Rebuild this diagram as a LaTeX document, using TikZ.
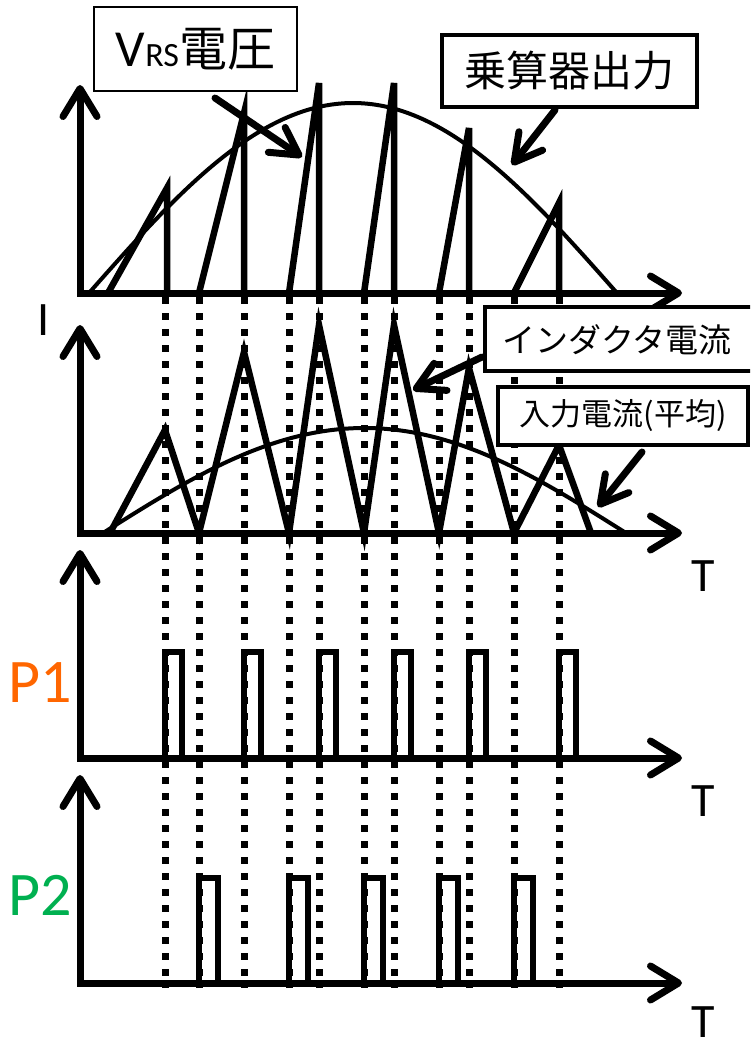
\documentclass[tikz,border=0pt]{standalone}
\usepackage{fontspec}
\setmainfont{Carlito}
\newfontfamily\jp{Noto Sans CJK JP}
\usetikzlibrary{arrows.meta}
\definecolor{porange}{RGB}{255,102,0}
\definecolor{pgreen}{RGB}{0,176,80}
\begin{document}
\begin{tikzpicture}[x=1pt,y=-1pt,
  axisline/.style={line width=7pt, line join=miter,
    {Straight Barb[length=28pt,width=34pt,line cap=round,line join=round]}-{Straight Barb[length=28pt,width=34pt,line cap=round,line join=round]}},
  callout/.style={line width=7pt, line cap=round, -{Straight Barb[length=27pt,width=30pt,line cap=round,line join=round]}},
  wave/.style={line width=6.5pt, line join=miter},
  avgcurve/.style={line width=4pt},
  pulse/.style={line width=5.5pt, line join=miter},
  guide/.style={line width=7pt, dash pattern=on 7pt off 9pt},
  lbl/.style={font=\fontsize{48}{48}\selectfont, inner sep=0pt},
  bigl/.style={font=\fontsize{62}{62}\selectfont, inner sep=0pt},
  labelbox/.style={draw, line width=3.5pt, inner sep=0pt, fill=white}]
\useasboundingbox (0,0) rectangle (750,1044);
\clip (0,0) rectangle (750,1044);

% guides
\foreach \gx in {165,199,244,289,319,364,394,439,469,514,559}
  \draw[guide] (\gx,297) -- (\gx,988);

% axes
\draw[axisline] (80,85) -- (80,293) -- (682,293);
\draw[axisline] (80,325) -- (80,533) -- (682,533);
\draw[axisline] (80,550) -- (80,758) -- (682,758);
\draw[axisline] (80,775) -- (80,983) -- (682,983);

% panel 1: VRS voltage
\draw[wave] (108,293) -- (167,188) -- (167,293)
            (199,293) -- (244,113) -- (244,293)
            (289,293) -- (319,83) -- (319,293)
            (364,293) -- (394,83) -- (394,293)
            (439,293) -- (469,128) -- (469,293)
            (514,293) -- (559,203) -- (559,293);
\draw[avgcurve] plot[domain=0:180, samples=80, smooth] ({89+2.93333*\x},{293-190*sin(\x)});

% panel 2: inductor current
\draw[wave] (110,533) -- (165,430) -- (199,533) -- (244,352) -- (289,533)
  -- (319,325) -- (364,533) -- (394,325) -- (439,533) -- (469,368)
  -- (514,533) -- (559,445) -- (591,533);
\draw[avgcurve] plot[domain=0:180, samples=80, smooth] ({103+2.90556*\x},{533-105*sin(\x)});

% panel 3: P1 pulses
\foreach \px in {165,244,319,394,469,559}
  \draw[pulse] (\px,758) -- (\px,652) -- (\px+17,652) -- (\px+17,758);
% panel 4: P2 pulses
\foreach \px in {199,289,364,439,514}
  \draw[pulse] (\px,983) -- (\px,878) -- (\px+19,878) -- (\px+19,983);

% axis labels
\node[lbl] (ilab) at (44,320) {I};
\node[lbl] (t2) at (703,576) {T};
\node[lbl] (t3) at (703,801) {T};
\node[lbl] (t4) at (703,1022) {T};
\node[bigl, text=porange] (p1) at (40,683) {P1};
\node[bigl, text=pgreen] (p2) at (40,895) {P2};

% label boxes
\node[labelbox, line width=2.5pt, minimum width=203pt, minimum height=84pt] (vbox) at (195.5,49)
  {{\fontsize{52}{52}\selectfont V}{\fontsize{34}{34}\selectfont RS}{\jp\fontsize{48}{48}\selectfont 電圧}};
\node[labelbox, minimum width=255pt, minimum height=72pt] (mbox) at (569.5,71)
  {\jp\fontsize{42}{42}\selectfont 乗算器出力};
\node[labelbox, minimum width=290pt, minimum height=64pt, anchor=west] (lbox) at (483,339) {};
\node[inner sep=0pt] (ltext) at (617,340) {\jp\fontsize{33}{33}\selectfont インダクタ電流};
\node[labelbox, minimum width=250pt, minimum height=58pt] (abox) at (623,416)
  {\jp\fontsize{31}{31}\selectfont 入力電流(平均)};

% callouts
\coordinate (vs) at (215,98);  \coordinate (vt) at (302,157);
\coordinate (ms) at (555,110); \coordinate (mt) at (512,165);
\coordinate (ls) at (482,357); \coordinate (lt) at (413,390);
\coordinate (as) at (642,452); \coordinate (at') at (598,507);
\draw[callout] (vs) -- (vt);
\draw[callout] (ms) -- (mt);
\draw[callout] (ls) -- (lt);
\draw[callout] (as) -- (at');
\end{tikzpicture}
\end{document}
